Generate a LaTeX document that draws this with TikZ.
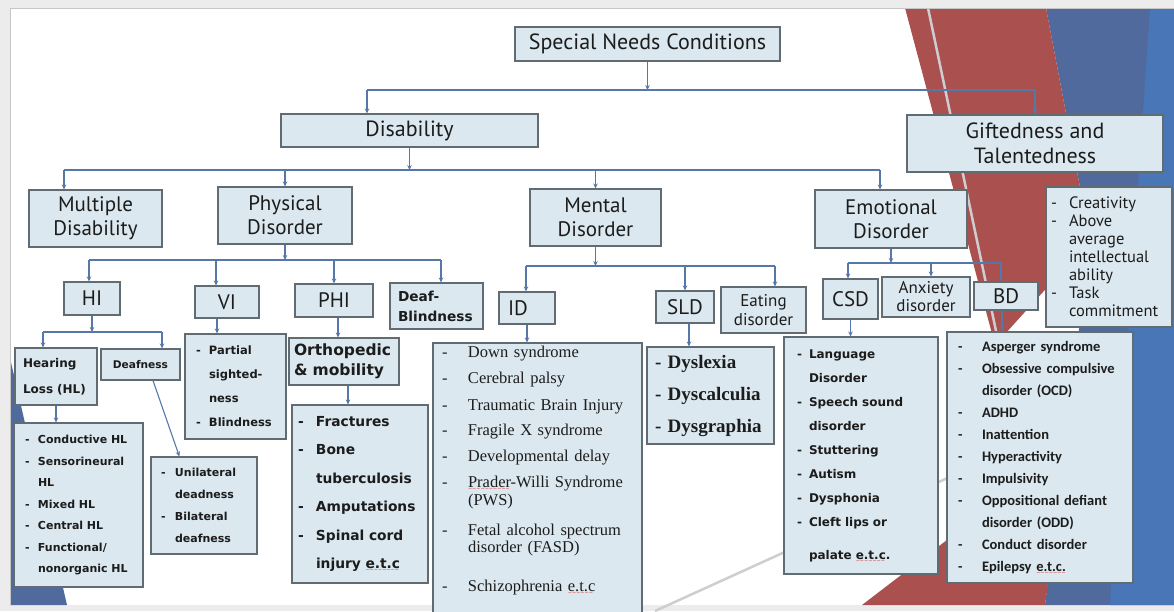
\documentclass[tikz,border=0pt]{standalone}
\usepackage{fontspec}
\setmainfont{PT Sans}
\newfontfamily\tb{DejaVu Sans}
\newfontfamily\carl{Carlito}
\newfontfamily\tms{Liberation Serif}
\usetikzlibrary{arrows.meta,calc}
\definecolor{boxfill}{RGB}{219,232,239}
\definecolor{boxline}{RGB}{96,108,114}
\definecolor{conn}{RGB}{86,120,168}
\definecolor{txt}{RGB}{28,28,28}
\definecolor{redbg}{RGB}{170,80,78}
\definecolor{bluebg}{RGB}{80,106,158}
\definecolor{bluelt}{RGB}{72,118,182}
\definecolor{outer}{RGB}{236,236,236}
\definecolor{chev}{RGB}{205,205,210}
\definecolor{wavy}{RGB}{215,50,50}
\newlength\sqw
\newcommand\sq[1]{\settowidth\sqw{#1}\leavevmode\rlap{\raisebox{-3pt}[0pt][0pt]{\textcolor{wavy}{\tb\mdseries\fontsize{5}{5}\selectfont\leaders\hbox{\char"223C}\hskip\sqw}}}#1}
\newlength\dw
\newcommand\Li[1]{\makebox[\dw][l]{-}#1}
\newcommand\Lc[1]{\hspace*{\dw}#1}
\begin{document}
\begin{tikzpicture}[x=1pt,y=-1pt,
 box/.style={draw=boxline, line width=1.1pt, fill=boxfill, inner sep=0pt, text=txt, align=center},
 lbox/.style={box, align=left},
 ln/.style={draw=conn, line width=1.1pt},
 arr/.style={ln, -{Stealth[length=5pt,width=4.5pt]}},
 t1/.style={font=\fontsize{22}{25}\selectfont},
 t2/.style={font=\fontsize{21}{24}\selectfont},
 t3/.style={font=\fontsize{21}{24}\selectfont},
]
\useasboundingbox (0,0) rectangle (1174,611);
% background
\fill[outer] (0,0) rectangle (1174,611);
\fill[white] (10,8) rectangle (1174,605);
\fill[bluebg] (1046,8) -- (1174,8) -- (1174,605) -- (1045,605) -- (1090,240) -- cycle;
\fill[bluelt] (1150,8) -- (1174,8) -- (1174,605) -- (1110,605) -- cycle;
\fill[redbg] (905,8) -- (1046,8) -- (1090,240) -- (995,345) -- cycle;
\fill[redbg] (862,605) -- (960,530) -- (1070,430) -- (1045,605) -- cycle;
\draw[chev, line width=2.5pt] (928,8) -- (1020,445) -- (655,611);
\fill[bluebg] (10,358) -- (67,605) -- (10,605) -- cycle;
\draw[gray!45, line width=1pt] (10,605) -- (10,8) -- (1174,8);

% level 0/1
\node[box, t1, minimum width=265, minimum height=34] (snc) at (647.5,44) {Special Needs Conditions};
\node[box, t1, minimum width=257, minimum height=33] (dis) at (409.5,130.5) {Disability};
\node[box, t1, minimum width=256, minimum height=57] (gift) at (1035,143.5) {Giftedness and\\Talentedness};
% level 2
\node[box, t2, minimum width=133, minimum height=57] (mult) at (95.5,218.5) {Multiple\\Disability};
\node[box, t2, minimum width=134, minimum height=57] (phys) at (285,215.5) {Physical\\Disorder};
\node[box, t2, minimum width=131, minimum height=57] (ment) at (595.5,217.5) {Mental\\Disorder};
\node[box, t2, minimum width=152, minimum height=58] (emo) at (891,219) {Emotional\\Disorder};
\node[lbox, font=\fontsize{16.5}{18}\selectfont\setlength\dw{18pt}, minimum width=126, minimum height=140, inner xsep=5, text width=116] (crea) at (1109,257) {\Li{Creativity}\\\Li{Above}\\\Lc{average}\\\Lc{intellectual}\\\Lc{ability}\\\Li{Task}\\\Lc{commitment}};
% level 3
\node[box, t3, minimum width=56, minimum height=33] (hi) at (92,298.5) {HI};
\node[box, t3, minimum width=64, minimum height=32] (vi) at (227,302) {VI};
\node[box, t3, minimum width=78, minimum height=33] (phi) at (334,300.5) {PHI};
\node[lbox, font=\tb\bfseries\fontsize{13.7}{20}\selectfont, minimum width=93, minimum height=46, inner xsep=8, text width=77] (db) at (436.5,306) {Deaf-\\Blindness};
\node[lbox, t3, minimum width=56, minimum height=32, inner xsep=9, text width=38] (id) at (527,308) {ID};
\node[box, t3, minimum width=58, minimum height=32] (sld) at (685,307) {SLD};
\node[box, font=\fontsize{17}{19}\selectfont, minimum width=85, minimum height=46] (eat) at (763.5,310) {Eating\\disorder};
\node[box, t3, minimum width=55, minimum height=40] (csd) at (850.5,299) {CSD};
\node[box, font=\fontsize{17}{18}\selectfont, minimum width=88, minimum height=40] (anx) at (926,297) {Anxiety\\disorder};
\node[box, t3, minimum width=64, minimum height=28] (bd) at (1006,296) {BD};
% level 4
\node[lbox, font=\tb\bfseries\fontsize{12}{26}\selectfont, minimum width=82, minimum height=57, inner xsep=8, text width=66] (hl) at (56,376.5) {Hearing\\Loss (HL)};
\node[box, font=\tb\bfseries\fontsize{10.6}{13}\selectfont, minimum width=79, minimum height=31] (deaf) at (140.5,364.5) {Deafness};
\node[lbox, font=\tb\bfseries\fontsize{11.5}{24}\selectfont\setlength\dw{13pt}, minimum width=101, minimum height=105, inner xsep=11, text width=79] (vil) at (235.5,386.5) {\Li{Partial}\\\Lc{sighted-}\\\Lc{ness}\\\Li{Blindness}};
\node[lbox, font=\tb\bfseries\fontsize{15.5}{20}\selectfont, minimum width=110, minimum height=47, inner xsep=5, text width=100] (orth) at (344,361.5) {Orthopedic\\\& mobility};
\node[lbox, font=\tms\fontsize{16.5}{17.5}\selectfont\setlength\dw{26pt}, minimum width=209, minimum height=277, inner xsep=9, text width=191] (idl) at (537.5,481.5) {\Li{Down syndrome}\\[8.5pt]\Li{Cerebral palsy}\\[9.5pt]\Li{Traumatic Brain Injury}\\[7.5pt]\Li{Fragile X syndrome}\\[8.5pt]\Li{Developmental delay}\\[8.5pt]\Li{\sq{Prader}-Willi Syndrome}\\\Lc{(PWS)}\\[12.5pt]\Li{Fetal alcohol spectrum}\\\Lc{disorder (FASD)}\\[21.5pt]\Li{Schizophrenia \sq{e.t.c}}\\[7pt]\mbox{}};
\node[lbox, font=\tms\bfseries\fontsize{19}{32}\selectfont, minimum width=127, minimum height=97, inner xsep=8, text width=111] (sldl) at (710.5,395.5) {- Dyslexia\\- Dyscalculia\\- Dysgraphia};
\node[lbox, font=\tb\bfseries\fontsize{12}{24}\selectfont\setlength\dw{12pt}, minimum width=154, minimum height=237, inner xsep=13, text width=128] (csdl) at (861,455.5) {\Li{Language}\\\Lc{Disorder}\\\Li{Speech sound}\\\Lc{disorder}\\\Li{Stuttering}\\\Li{Autism}\\\Li{Dysphonia}\\\Li{Cleft lips or}\\[9pt]\Lc{palate \sq{e.t.c}.}};
\node[lbox, font=\carl\bfseries\fontsize{14.5}{22}\selectfont\setlength\dw{24pt}, minimum width=186, minimum height=251, inner xsep=11, text width=164] (bdl) at (1040,457.5) {\Li{Asperger syndrome}\\\Li{Obsessive compulsive}\\\Lc{disorder (OCD)}\\\Li{ADHD}\\\Li{Inattention}\\\Li{Hyperactivity}\\\Li{Impulsivity}\\\Li{Oppositional defiant}\\\Lc{disorder (ODD)}\\\Li{Conduct disorder}\\\Li{Epilepsy \sq{e.t.c.}}};
% level 5
\node[lbox, font=\tb\bfseries\fontsize{11}{21.5}\selectfont\setlength\dw{13pt}, minimum width=129, minimum height=164, inner xsep=11, text width=107] (hll) at (78.5,505) {\Li{Conductive HL}\\\Li{Sensorineural}\\\Lc{HL}\\\Li{Mixed HL}\\\Li{Central HL}\\\Li{Functional/}\\\Lc{nonorganic HL}};
\node[lbox, font=\tb\bfseries\fontsize{11}{22}\selectfont\setlength\dw{14pt}, minimum width=106, minimum height=97, inner xsep=10, text width=86] (dfl) at (204,505.5) {\Li{Unilateral}\\\Lc{deadness}\\\Li{Bilateral}\\\Lc{deafness}};
\node[lbox, font=\tb\bfseries\fontsize{13.8}{28.5}\selectfont\setlength\dw{18pt}, minimum width=136, minimum height=178, inner xsep=6, text width=124] (orl) at (360,494) {\Li{Fractures}\\\Li{Bone}\\\Lc{tuberculosis}\\\Li{Amputations}\\\Li{Spinal cord}\\\Lc{injury \sq{e.t.c}}};

% connectors
\coordinate (b1a) at (367,90); \coordinate (b1b) at (1035,90);
\draw[ln] (b1a) -- (b1b);
\draw[arr] (snc.south) -- (snc.south |- b1a);
\draw[arr] (b1a) -- (b1a |- dis.north);
\draw[arr] (b1b) -- (gift.north);

\coordinate (b2a) at (64,170); \coordinate (b2b) at (880,170);
\draw[ln] (b2a) -- (b2b);
\draw[arr] (dis.south) -- (dis.south |- b2a);
\draw[arr] (b2a) -- (b2a |- mult.north);
\draw[arr] (phys.north |- b2a) -- (phys.north);
\draw[arr] (ment.north |- b2a) -- (ment.north);
\draw[arr] (b2b) -- (b2b |- emo.north);

\coordinate (b3a) at (89,260); \coordinate (b3v) at (216,260); \coordinate (b3b) at (441,260);
\draw[ln] (b3a) -- (b3b);
\draw[arr] (phys.south) -- (phys.south |- b3a);
\draw[arr] (b3a) -- (b3a |- hi.north);
\draw[arr] (b3v) -- (b3v |- vi.north);
\draw[arr] (phi.north |- b3a) -- (phi.north);
\draw[arr] (b3b) -- (b3b |- db.north);

\coordinate (b4a) at (526,266); \coordinate (b4b) at (775,266);
\draw[ln] (b4a) -- (b4b);
\draw[arr] (ment.south) -- (ment.south |- b4a);
\draw[arr] (b4a) -- (b4a |- id.north);
\draw[arr] (sld.north |- b4a) -- (sld.north);
\draw[arr] (b4b) -- (b4b |- eat.north);

\coordinate (b5a) at (848,263); \coordinate (b5x) at (931,263); \coordinate (b5b) at (1001,263);
\draw[ln] (b5a) -- (b5b);
\draw[arr] (emo.south) -- (emo.south |- b5a);
\draw[arr] (b5a) -- (b5a |- csd.north);
\draw[arr] (b5x) -- (b5x |- anx.north);
\draw[arr] (b5b) -- (b5b |- bd.north);

\coordinate (b6a) at (43,332); \coordinate (b6b) at (162,332);
\draw[ln] (b6a) -- (b6b);
\draw[arr] (hi.south) -- (hi.south |- b6a);
\draw[arr] (b6a) -- (b6a |- hl.north);
\draw[arr] (b6b) -- (b6b |- deaf.north);

\coordinate (xv) at (217,0); \draw[arr] (vi.south -| xv) -- (vil.north -| xv);
\coordinate (xp) at (338,0); \draw[arr] (phi.south -| xp) -- (orth.north -| xp);
\coordinate (xo) at (348,0); \draw[arr] (orth.south -| xo) -- (orl.north -| xo);
\draw[arr] (id.south) -- (idl.north -| id.south);
\coordinate (xs) at (689,0); \draw[arr] (sld.south -| xs) -- (sldl.north -| xs);
\draw[arr] (csd.south) -- (csdl.north -| csd.south);
\coordinate (xb) at (1002,0); \draw[arr] (bd.south -| xb) -- (bdl.north -| xb);
\draw[arr] (hl.south) -- (hll.north -| hl.south);
\coordinate (xd) at (153,0); \draw[arr] (deaf.south -| xd) -- ($(dfl.north west)!0.27!(dfl.north east)$);
\end{tikzpicture}
\end{document}
